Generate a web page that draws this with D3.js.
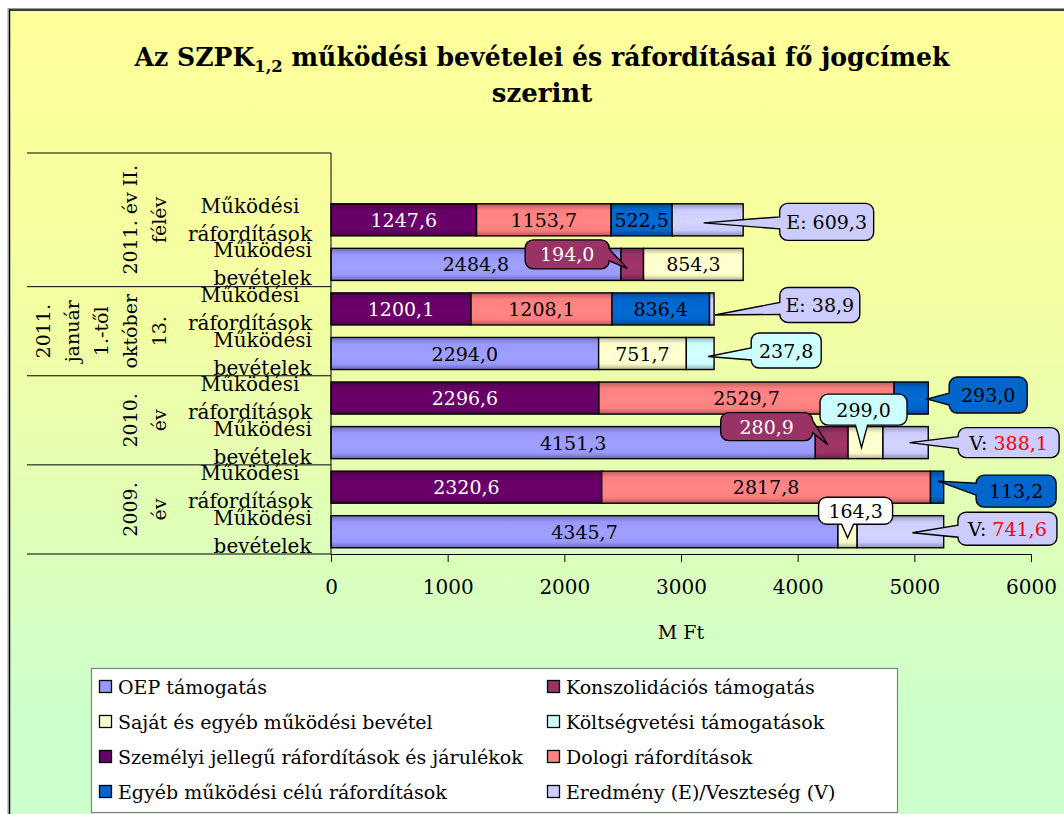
<!DOCTYPE html>
<html lang="hu">
<head>
<meta charset="UTF-8">
<title>Az SZPK működési bevételei és ráfordításai</title>
<script src="https://d3js.org/d3.v7.min.js"></script>
<style>
  body { margin: 0; background: #fff; }
  svg { display: block; font-family: "DejaVu Serif", serif; }
</style>
</head>
<body>
<script>
// --- data -------------------------------------------------------------
const groupLines = [
  ["2011. év II.", "félév"],
  ["2011.", "január", "1.-től", "október", "13."],
  ["2010.", "év"],
  ["2009.", "év"]
];
const rowLines = [["Működési", "ráfordítások"], ["Működési", "bevételek"]];
const rows = ["2011/2 ráf", "2011/2 bev", "2011/1 ráf", "2011/1 bev", "2010 ráf", "2010 bev", "2009 ráf", "2009 bev"];

const seriesNames = [
  "OEP támogatás", "Konszolidációs támogatás",
  "Saját és egyéb működési bevétel", "Költségvetési támogatások",
  "Személyi jellegű ráfordítások és járulékok", "Dologi ráfordítások",
  "Egyéb működési célú ráfordítások", "Eredmény (E)/Veszteség (V)"
];
const seriesColors = ["#9999FF", "#993366", "#FFFFCC", "#CCFFFF", "#660066", "#FF8080", "#0066CC", "#CCCCFF"];

const oep       = [0, 2484.8, 0, 2294.0, 0, 4151.3, 0, 4345.7];
const konszol   = [0, 194.0, 0, 0, 0, 280.9, 0, 0];
const sajat     = [0, 854.3, 0, 751.7, 0, 299.0, 0, 164.3];
const koltseg   = [0, 0, 0, 237.8, 0, 0, 0, 0];
const szemelyi  = [1247.6, 0, 1200.1, 0, 2296.6, 0, 2320.6, 0];
const dologi    = [1153.7, 0, 1208.1, 0, 2529.7, 0, 2817.8, 0];
const egyeb     = [522.5, 0, 836.4, 0, 293.0, 0, 113.2, 0];
const eredmeny  = [609.3, 0, 38.9, 0, 0, 388.1, 0, 741.6];
const seriesValues = [oep, konszol, sajat, koltseg, szemelyi, dologi, egyeb, eredmeny];

const xTicks = [0, 1000, 2000, 3000, 4000, 5000, 6000];

// callout balloons: row, series, prefix, offset of box from segment centre, box size, pointer nudge
const callouts = [
  { row: 0, s: 7, prefix: "E: ", dx: 119, dy: 2,   w: 94,  h: 37, tx: -4, ty: 3,  fill: "#CCCCFF" },
  { row: 1, s: 1, prefix: "",    dx: -65, dy: -10, w: 84,  h: 29, tx: -5, ty: 4,  fill: "#993366", color: "#fff" },
  { row: 2, s: 7, prefix: "E: ", dx: 108, dy: -4,  w: 80,  h: 35, tx: 3,  ty: 6,  fill: "#CCCCFF" },
  { row: 3, s: 3, prefix: "",    dx: 86,  dy: -3,  w: 70,  h: 35, tx: 8,  ty: 3,  fill: "#CCFFFF" },
  { row: 4, s: 6, prefix: "",    dx: 77,  dy: -3,  w: 78,  h: 36, tx: 16, ty: 1,  fill: "#0066CC" },
  { row: 5, s: 2, prefix: "",    dx: -2,  dy: -33, w: 87,  h: 31, tx: -4, ty: 5,  fill: "#CCFFFF" },
  { row: 5, s: 1, prefix: "",    dx: -65, dy: -16, w: 92,  h: 28, tx: -4, ty: 2,  fill: "#993366", color: "#fff" },
  { row: 5, s: 7, prefix: "V: ", dx: 103, dy: 0,   w: 101, h: 30, tx: 4,  ty: 0,  fill: "#CCCCFF", num: "#FF0000" },
  { row: 6, s: 6, prefix: "",    dx: 79,  dy: 4,   w: 80,  h: 32, tx: 1,  ty: -6, fill: "#0066CC" },
  { row: 7, s: 2, prefix: "",    dx: 8,   dy: -21, w: 74,  h: 27, tx: 0,  ty: 6,  fill: "#FFFFFF" },
  { row: 7, s: 7, prefix: "V: ", dx: 107, dy: -3,  w: 99,  h: 33, tx: 12, ty: 1,  fill: "#CCCCFF", num: "#FF0000" }
];

// --- setup ------------------------------------------------------------
const width = 1064, height = 814;
const fmt = v => d3.format(".1f")(v).replace(".", ",");

const svg = d3.select("body").append("svg")
  .attr("width", width).attr("height", height);
const defs = svg.append("defs");

const bg = defs.append("linearGradient").attr("id", "bg")
  .attr("gradientUnits", "userSpaceOnUse")
  .attr("x1", 0).attr("y1", 10).attr("x2", 0).attr("y2", 720);
bg.append("stop").attr("offset", 0).attr("stop-color", "#FFFF99");
bg.append("stop").attr("offset", 0.45).attr("stop-color", "#F2FEA4");
bg.append("stop").attr("offset", 1).attr("stop-color", "#CCFFCC");

seriesColors.forEach((c, i) => {
  const g = defs.append("linearGradient").attr("id", "s" + i)
    .attr("x1", 0).attr("y1", 0).attr("x2", 0).attr("y2", 1);
  const base = d3.color(c);
  g.append("stop").attr("offset", 0).attr("stop-color", base.darker(0.9));
  g.append("stop").attr("offset", 0.2).attr("stop-color", base);
  g.append("stop").attr("offset", 0.55).attr("stop-color", base.brighter(0.12));
  g.append("stop").attr("offset", 0.82).attr("stop-color", base);
  g.append("stop").attr("offset", 1).attr("stop-color", base.darker(1.0));
});

// chart area frame
svg.append("rect").attr("x", 8).attr("y", 8.5).attr("width", 1070).attr("height", 820)
  .attr("fill", "none").attr("stroke", "#999").attr("stroke-width", 1);
svg.append("rect").attr("x", 9.5).attr("y", 10).attr("width", 1070).attr("height", 820)
  .attr("fill", "url(#bg)").attr("stroke", "#000").attr("stroke-width", 1.5);

// title
const t1 = svg.append("text").attr("x", 542).attr("y", 66)
  .attr("text-anchor", "middle").attr("font-size", 26).attr("font-weight", "bold");
t1.append("tspan").text("Az SZPK");
t1.append("tspan").attr("font-size", 17).attr("dy", 6).text("1,2");
t1.append("tspan").attr("dy", -6).text(" működési bevételei és ráfordításai fő jogcímek");
const tw = t1.node().getComputedTextLength();
if (tw > 815) t1.attr("textLength", 815).attr("lengthAdjust", "spacingAndGlyphs");
svg.append("text").attr("x", 542).attr("y", 102)
  .attr("text-anchor", "middle").attr("font-size", 26).attr("font-weight", "bold")
  .text("szerint");

// scales
const x = d3.scaleLinear().domain([0, 6000]).range([331, 1031]);
const y = d3.scaleBand().domain(["", ...rows]).range([153, 554])
  .paddingInner(0.28).paddingOuter(0.14);
const step = y.step();

// stacked segments
const segs = [];
rows.forEach((r, ri) => {
  let acc = 0;
  seriesValues.forEach((vals, si) => {
    const v = vals[ri];
    if (v > 0) { segs.push({ row: ri, s: si, v, x0: acc, x1: acc + v }); acc += v; }
  });
});

svg.append("g").selectAll("rect").data(segs).join("rect")
  .attr("x", d => x(d.x0))
  .attr("y", d => y(rows[d.row]))
  .attr("width", d => x(d.x1) - x(d.x0))
  .attr("height", y.bandwidth())
  .attr("fill", d => `url(#s${d.s})`)
  .attr("stroke", "#000").attr("stroke-width", 1.4);

const calloutKeys = new Set(callouts.map(c => c.row + "-" + c.s));
svg.append("g").selectAll("text")
  .data(segs.filter(d => !calloutKeys.has(d.row + "-" + d.s)))
  .join("text")
  .attr("x", d => (x(d.x0) + x(d.x1)) / 2)
  .attr("y", d => y(rows[d.row]) + y.bandwidth() / 2 + 7)
  .attr("text-anchor", "middle").attr("font-size", 19)
  .attr("fill", d => d.s === 4 ? "#fff" : "#000")
  .text(d => fmt(d.v));

// axes
svg.append("line").attr("x1", 331).attr("x2", 331).attr("y1", 153).attr("y2", 554)
  .attr("stroke", "#000").attr("stroke-width", 1);
[0, 3, 5, 7, 9].forEach(k => {
  const yy = 153 + step * k;
  svg.append("line").attr("x1", 27).attr("x2", 331).attr("y1", yy).attr("y2", yy)
    .attr("stroke", "#000").attr("stroke-width", 1);
});

const xAxis = svg.append("g").attr("transform", "translate(0,554)")
  .call(d3.axisBottom(x).tickValues(xTicks).tickSize(8).tickPadding(18).tickFormat(d3.format("d")));
xAxis.select(".domain").attr("stroke", "#000");
xAxis.selectAll(".tick line").attr("stroke", "#000");
xAxis.selectAll("text").attr("font-size", 20).attr("font-family", "DejaVu Serif, serif").attr("fill", "#000");

svg.append("text").attr("x", 681).attr("y", 639).attr("text-anchor", "middle")
  .attr("font-size", 19).text("M Ft");

// row labels
rows.forEach((r, ri) => {
  const lines = rowLines[ri % 2];
  const cy = y(r) + y.bandwidth() / 2;
  const g = svg.append("g");
  const ts = lines.map((l, li) => g.append("text").attr("y", cy - 7 + li * 28)
    .attr("text-anchor", "middle").attr("font-size", 20).text(l));
  const mw = d3.max(ts, t => t.node().getComputedTextLength());
  ts.forEach(t => t.attr("x", 312 - mw / 2));
});

// group labels (rotated)
const bounds = [0, 3, 5, 7, 9];
groupLines.forEach((lines, gi) => {
  const cy = 153 + step * (bounds[gi] + bounds[gi + 1]) / 2;
  lines.forEach((l, li) => {
    const bx = 166 - 29 * (lines.length - 1 - li);
    svg.append("text").attr("transform", `translate(${bx},${cy}) rotate(-90)`)
      .attr("text-anchor", "middle").attr("font-size", 19).text(l);
  });
});

// callouts
function balloon(cx, cy, w, h, tx, ty, r) {
  const x0 = cx - w / 2, x1 = cx + w / 2, y0 = cy - h / 2, y1 = cy + h / 2;
  const vx = tx - cx, vy = ty - cy;
  const side = Math.abs(vx) / (w / 2) >= Math.abs(vy) / (h / 2) ? (vx < 0 ? "l" : "r") : (vy < 0 ? "t" : "b");
  const bw = 12;
  const cl = (v, a, b) => Math.max(a, Math.min(b, v));
  let p = `M${x0 + r},${y0}`;
  if (side === "t") { const m = cl(tx, x0 + r + bw, x1 - r - bw); p += `L${m - bw / 2},${y0}L${tx},${ty}L${m + bw / 2},${y0}`; }
  p += `L${x1 - r},${y0}A${r},${r} 0 0 1 ${x1},${y0 + r}`;
  if (side === "r") { const m = cl(ty, y0 + r + bw / 2, y1 - r - bw / 2); p += `L${x1},${m - bw / 2}L${tx},${ty}L${x1},${m + bw / 2}`; }
  p += `L${x1},${y1 - r}A${r},${r} 0 0 1 ${x1 - r},${y1}`;
  if (side === "b") { const m = cl(tx, x0 + r + bw, x1 - r - bw); p += `L${m + bw / 2},${y1}L${tx},${ty}L${m - bw / 2},${y1}`; }
  p += `L${x0 + r},${y1}A${r},${r} 0 0 1 ${x0},${y1 - r}`;
  if (side === "l") { const m = cl(ty, y0 + r + bw / 2, y1 - r - bw / 2); p += `L${x0},${m + bw / 2}L${tx},${ty}L${x0},${m - bw / 2}`; }
  p += `L${x0},${y0 + r}A${r},${r} 0 0 1 ${x0 + r},${y0}Z`;
  return p;
}

callouts.forEach(c => {
  const seg = segs.find(d => d.row === c.row && d.s === c.s);
  const sx = (x(seg.x0) + x(seg.x1)) / 2;
  const sy = y(rows[c.row]) + y.bandwidth() / 2;
  const cx = sx + c.dx, cy = sy + c.dy;
  const g = svg.append("g");
  g.append("path").attr("d", balloon(cx, cy, c.w, c.h, sx + c.tx, sy + c.ty, 8))
    .attr("fill", c.fill).attr("stroke", "#000").attr("stroke-width", 1.4);
  const t = g.append("text").attr("x", cx).attr("y", cy + 7)
    .attr("text-anchor", "middle").attr("font-size", 19).attr("fill", c.color || "#000");
  if (c.prefix) t.append("tspan").text(c.prefix);
  t.append("tspan").attr("fill", c.num || (c.color || "#000")).text(fmt(seg.v));
});

// legend
const lg = svg.append("g");
lg.append("rect").attr("x", 91.5).attr("y", 668.5).attr("width", 806).attr("height", 144)
  .attr("fill", "#fff").attr("stroke", "#808080").attr("stroke-width", 1.2);
seriesNames.forEach((n, i) => {
  const col = i % 2, row = Math.floor(i / 2);
  const lx = col === 0 ? 99 : 547;
  const ly = 687 + row * 35;
  lg.append("rect").attr("x", lx + 0.5).attr("y", ly - 6.5).attr("width", 12).attr("height", 12)
    .attr("fill", seriesColors[i]).attr("stroke", "#000").attr("stroke-width", 1.3);
  lg.append("text").attr("x", lx + 19).attr("y", ly + 7).attr("font-size", 19).text(n);
});
</script>
</body>
</html>
